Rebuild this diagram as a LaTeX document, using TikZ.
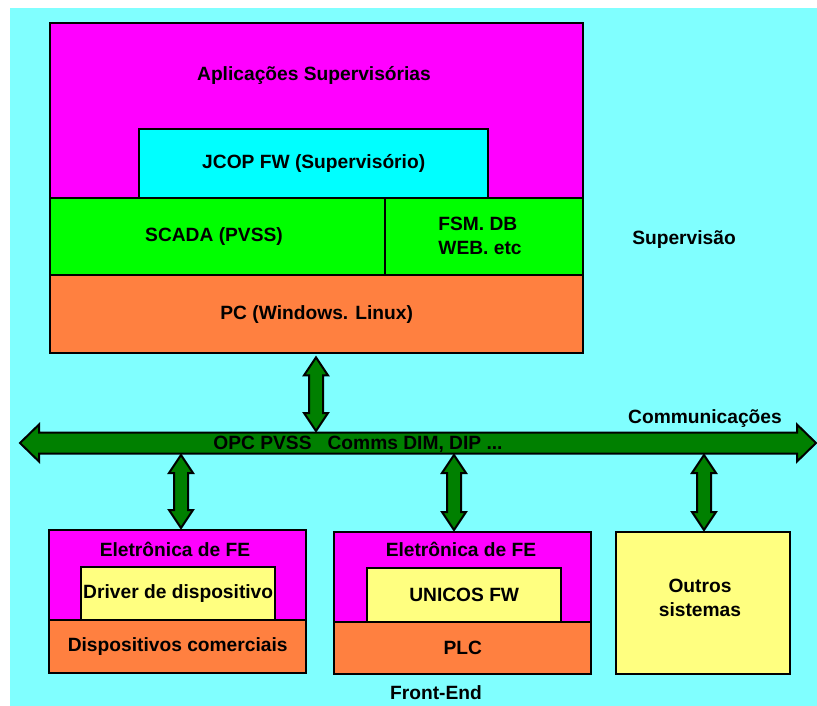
\documentclass[tikz,border=0pt]{standalone}
\usepackage{fontspec}
\setmainfont{Liberation Sans}
\usetikzlibrary{calc}
\definecolor{bgc}{HTML}{80FFFF}
\definecolor{mag}{HTML}{FF00FF}
\definecolor{cyn}{HTML}{00FFFF}
\definecolor{grn}{HTML}{00FF00}
\definecolor{org}{HTML}{FF8040}
\definecolor{ylw}{HTML}{FFFF80}
\definecolor{dgrn}{HTML}{008000}
\newcommand\vblockarrow[2]{\draw[blk] let \p1=#1,\p2=#2 in
  (\x1,\y1) -- (\x1+12pt,\y1-18pt) -- (\x1+7pt,\y1-18pt) -- (\x1+7pt,\y2+18pt) -- (\x1+12pt,\y2+18pt)
  -- (\x1,\y2) -- (\x1-12pt,\y2+18pt) -- (\x1-7pt,\y2+18pt) -- (\x1-7pt,\y1-18pt) -- (\x1-12pt,\y1-18pt) -- cycle;}
\newcommand\hblockarrow[2]{\draw[blk] let \p1=#1,\p2=#2 in
  (\x1,\y1) -- (\x1+19pt,\y1+18.5pt) -- (\x1+19pt,\y1+10.5pt) -- (\x2-19pt,\y1+10.5pt) -- (\x2-19pt,\y1+18.5pt)
  -- (\x2,\y1) -- (\x2-19pt,\y1-18.5pt) -- (\x2-19pt,\y1-10.5pt) -- (\x1+19pt,\y1-10.5pt) -- (\x1+19pt,\y1-18.5pt) -- cycle;}
\begin{document}
\begin{tikzpicture}[x=1pt,y=-1pt,
  box/.style={draw=black,line width=2.4pt,inner sep=0pt,anchor=north west},
  lbl/.style={font=\fontsize{19.2}{24}\selectfont\bfseries,inner sep=0pt,align=center},
  blk/.style={draw=black,fill=dgrn,line width=2pt,line join=miter}]
\useasboundingbox (0,0) rectangle (817,706);
\fill[bgc] (10,8) rectangle (817,706);
% supervision stack
\node[box,fill=mag,minimum width=533pt,minimum height=175pt] (apl) at (49,22) {};
\node[box,fill=cyn,minimum width=349pt,minimum height=69pt] (jcop) at (138,128) {};
\node[box,fill=grn,minimum width=335pt,minimum height=77pt] (scada) at (49,197) {};
\node[box,fill=grn,minimum width=198pt,minimum height=77pt] (fsm) at (384,197) {};
\node[box,fill=org,minimum width=533pt,minimum height=78pt] (pc) at (49,274) {};
\node[lbl] (aplt) at (314,75) {Aplicações Supervisórias};
\node[lbl] (jcopt) at (jcop.center) {JCOP FW (Supervisório)};
\node[lbl] (scadat) at (214,237) {SCADA (PVSS)};
\node[lbl,align=left] (fsmt) at (480,236) {FSM. DB\\WEB. etc};
\node[lbl] (pct) at (pc.center) {PC (Windows. Linux)};
\node[lbl] (sup) at (684,240) {Supervisão};
% front-end boxes
\node[box,fill=mag,minimum width=257pt,minimum height=90pt] (fe1) at (48,529) {};
\node[box,fill=org,minimum width=257pt,minimum height=53pt] (dc) at (48,619) {};
\node[box,fill=ylw,minimum width=194pt,minimum height=53pt] (drv) at (80,566) {};
\node[box,fill=mag,minimum width=257pt,minimum height=90pt] (fe2) at (333,531) {};
\node[box,fill=org,minimum width=257pt,minimum height=52pt] (plc) at (333,621) {};
\node[box,fill=ylw,minimum width=194pt,minimum height=54pt] (uni) at (366,567) {};
\node[box,fill=ylw,minimum width=174pt,minimum height=142pt] (out) at (615,531) {};
\node[lbl] (fe1t) at (175,549) {Eletrônica de FE};
\node[lbl] (drvt) at (drv.center) {Driver de dispositivo};
\node[lbl] (dct) at (dc.center) {Dispositivos comerciais};
\node[lbl] (fe2t) at (461,549) {Eletrônica de FE};
\node[lbl] (unit) at (uni.center) {UNICOS FW};
\node[lbl] (plct) at (plc.center) {PLC};
\node[lbl] (outt) at (700,598) {Outros\\sistemas};
\node[lbl] (fet) at (436,693) {Front-End};
\node[lbl] (comt) at (705,419) {Communicações};
% bus
\coordinate (busL) at (20,443);
\coordinate (busR) at (816,443);
\hblockarrow{(busL)}{(busR)}
\node[lbl] (bust) at (358,444) {OPC PVSS\ \ \ Comms DIM, DIP ...};
% vertical arrows
\coordinate (a0t) at (pc.south -| 316,0);
\coordinate (a0b) at (316,431);
\vblockarrow{($(a0t)+(0,3)$)}{(a0b)}
\coordinate (a1t) at (181,455);
\coordinate (a1b) at (fe1.north -| 181,0);
\vblockarrow{(a1t)}{($(a1b)+(0,-1)$)}
\coordinate (a2t) at (454,455);
\coordinate (a2b) at (fe2.north -| 454,0);
\vblockarrow{(a2t)}{($(a2b)+(0,-1)$)}
\coordinate (a3t) at (704,455);
\coordinate (a3b) at (out.north -| 704,0);
\vblockarrow{(a3t)}{($(a3b)+(0,-1)$)}
\end{tikzpicture}
\end{document}
